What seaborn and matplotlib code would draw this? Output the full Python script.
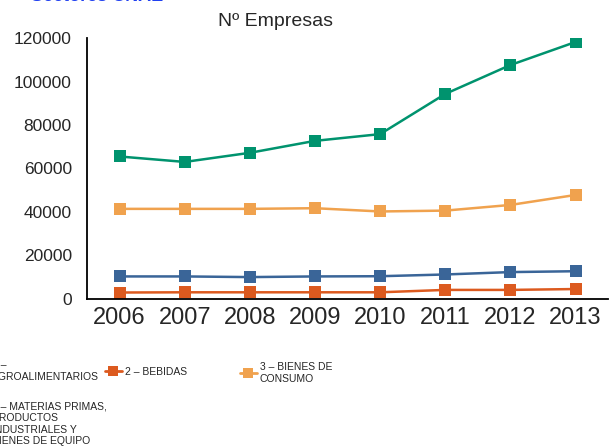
import matplotlib
matplotlib.use("Agg")
import pandas as pd
import seaborn as sns
import matplotlib.pyplot as plt
from matplotlib.lines import Line2D

# data
years = [2006, 2007, 2008, 2009, 2010, 2011, 2012, 2013]
sectors = ["1 – AGROALIMENTARIOS", "2 – BEBIDAS", "3 – BIENES DE CONSUMO",
           "4 – MATERIAS PRIMAS, PRODUCTOS INDUSTRIALES Y BIENES DE EQUIPO"]
legend_labels = ["1 –\nAGROALIMENTARIOS", "2 – BEBIDAS", "3 – BIENES DE\nCONSUMO",
                 "4 – MATERIAS PRIMAS,\nPRODUCTOS\nINDUSTRIALES Y\nBIENES DE EQUIPO"]
agro = [10300, 10300, 10000, 10300, 10400, 11200, 12300, 12700]
bebidas = [2900, 3000, 3000, 3000, 3000, 4100, 4100, 4500]
consumo = [41400, 41400, 41400, 41700, 40200, 40600, 43200, 47800]
materias = [65500, 63000, 67200, 72700, 75800, 94300, 107600, 118200]
colors = ["#3A6598", "#DC5A1F", "#F0A24E", "#00936E"]

sns.set_style("white")
plt.rcParams["font.family"] = ["Liberation Sans", "DejaVu Sans"]

df = pd.DataFrame({
    "year": years * 4,
    "sector": sum([[s] * len(years) for s in sectors], []),
    "value": agro + bebidas + consumo + materias,
})

fig = plt.figure(figsize=(6.13, 4.48), dpi=100)
ax = fig.add_axes([0.142, 0.333, 0.85, 0.582])

sns.lineplot(data=df, x="year", y="value", hue="sector", hue_order=sectors,
             palette=colors, marker="s", markersize=9, markeredgewidth=0,
             linewidth=1.8, legend=False, ax=ax)

ax.set_xlim(2005.5, 2013.5)
ax.set_ylim(0, 120000)
ax.set_xticks(years)
ax.set_xticklabels([str(y) for y in years], fontsize=17)
ax.set_yticks(range(0, 120001, 20000))
ax.set_yticklabels([str(v) for v in range(0, 120001, 20000)], fontsize=12.5)
ax.tick_params(axis="x", length=0, pad=6)
ax.tick_params(axis="y", length=0, pad=11)
ax.set_xlabel("")
ax.set_ylabel("")
for side in ["top", "right"]:
    ax.spines[side].set_visible(False)
for side in ["left", "bottom"]:
    ax.spines[side].set_color("black")
    ax.spines[side].set_linewidth(1.3)

fig.text(0.45, 0.951, "Nº Empresas", ha="center", va="center", fontsize=14)
# blue heading mostly outside the top edge, as in the original crop
fig.text(0.05, 1 - 5 / 448, "Sectores CNAE", ha="left", va="bottom", fontsize=13,
         fontweight="bold", color="#2040F0")

# legend entries laid out like the original (row-major grid, partly cut off)
spots = [(-28, 371), (105, 372), (240, 373), (-28, 424)]
W, H = 613, 448
for lab, col, (px, py) in zip(legend_labels, colors, spots):
    h = Line2D([0], [0], color=col, lw=2, marker="s", markersize=7, markeredgewidth=0)
    fig.legend([h], [lab], loc="center left",
               bbox_to_anchor=(px / W, 1 - py / H), frameon=False,
               fontsize=7.5, borderpad=0, borderaxespad=0,
               handlelength=1.6, handletextpad=0.3, labelspacing=0)

fig.savefig("out.png", dpi=100)
